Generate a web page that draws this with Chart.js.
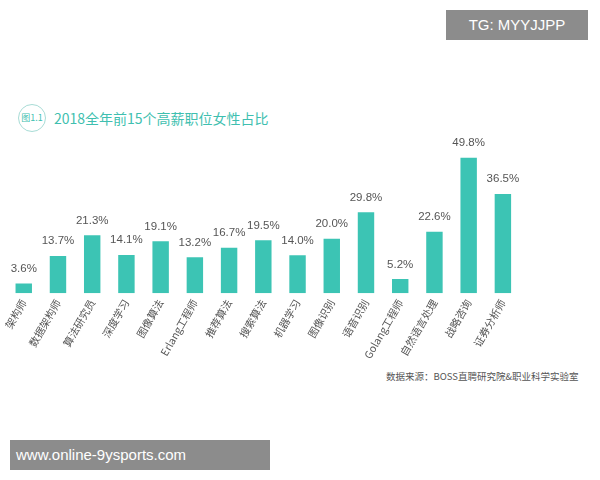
<!DOCTYPE html>
<html><head><meta charset="utf-8">
<script src="https://cdn.jsdelivr.net/npm/chart.js@4"></script>
<style>
body{margin:0;width:600px;height:480px;background:#fff;position:relative;font-family:"Noto Sans CJK SC","Noto Sans",sans-serif;overflow:hidden}
#wrap{position:absolute;left:4px;top:110px;width:516px;height:255px}
#title{position:absolute;left:54px;top:108px;font-size:14px;color:#3fbfb0}
#badge{position:absolute;left:18px;top:104px;width:26px;height:26px;border:1px solid #a8dcd6;border-radius:50%;font-size:9px;color:#3fbfb0;text-align:center;line-height:26px}
#src{position:absolute;left:386px;top:369px;font-size:9.5px;color:#555;white-space:nowrap}
#tg{position:absolute;left:446px;top:10px;width:142px;height:30px;background:#8c8c8c;color:#fff;font:15px "Liberation Sans",sans-serif;line-height:30px;text-align:center}
#url{position:absolute;left:10px;top:440px;width:260px;height:30px;background:#8c8c8c;color:#fff;font:15px "Liberation Sans",sans-serif;line-height:30px;padding-left:6px;box-sizing:border-box}
</style></head><body>
<div id="badge">图1.1</div>
<div id="title">2018全年前15个高薪职位女性占比</div>
<div id="wrap"><canvas id="c"></canvas></div>
<div id="src">数据来源：BOSS直聘研究院&amp;职业科学实验室</div>
<div id="tg">TG: MYYJJPP</div>
<div id="url">www.online-9ysports.com</div>
<script>
const categories=["架构师","数据架构师","算法研究员","深度学习","图像算法","Erlang工程师","推荐算法","搜索算法","机器学习","图像识别","语音识别","Golang工程师","自然语言处理","战略咨询","证券分析师"];
const values=[3.6,13.7,21.3,14.1,19.1,13.2,16.7,19.5,14.0,20.0,29.8,5.2,22.6,49.8,36.5];
const labelPlugin={id:'lbl',afterDatasetsDraw(ch){const ctx=ch.ctx;const m=ch.getDatasetMeta(0);ctx.save();ctx.font='11.5px "Liberation Sans",sans-serif';ctx.fillStyle='#555';ctx.textAlign='center';ctx.textBaseline='bottom';
m.data.forEach((b,i)=>ctx.fillText(values[i].toFixed(1)+'%',b.x,b.y-9));ctx.restore();}};
new Chart(document.getElementById('c'),{type:'bar',data:{labels:categories,datasets:[{data:values,backgroundColor:'#3cc4b4',barPercentage:0.48,categoryPercentage:1}]},
options:{responsive:true,maintainAspectRatio:false,animation:false,layout:{padding:{top:20,left:0,right:0}},
plugins:{legend:{display:false},tooltip:{enabled:false}},
scales:{y:{min:0,max:60,display:false},x:{grid:{display:false,drawTicks:false},border:{display:false},ticks:{color:'#555',font:{size:10.5,family:'"Noto Sans CJK SC"'},maxRotation:60,minRotation:60,padding:4}}}},plugins:[labelPlugin]});
</script></body></html>
